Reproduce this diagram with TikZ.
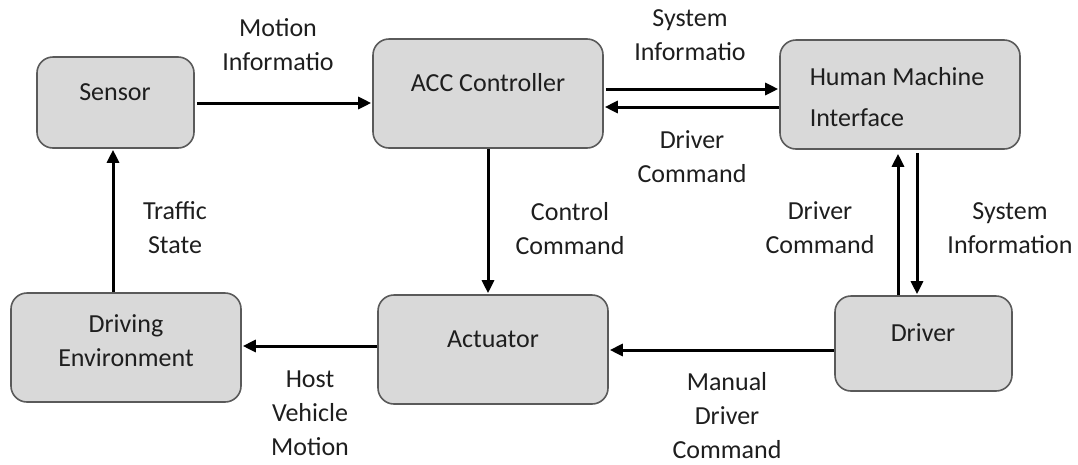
\documentclass[tikz,border=0pt]{standalone}
\usepackage{fontspec}
\setmainfont{Carlito}
\usetikzlibrary{arrows.meta,calc}
\definecolor{boxfill}{HTML}{D9D9D9}
\definecolor{boxline}{HTML}{5A5A5A}
\definecolor{txtcol}{HTML}{1E1E1E}
\begin{document}
\begin{tikzpicture}[x=1pt,y=-1pt,
  box/.style={draw=boxline,fill=boxfill,line width=1.6pt,rounded corners=16pt,inner sep=0pt},
  txt/.style={text=txtcol,font=\fontsize{26}{34}\selectfont,align=center,inner sep=0pt},
  flow/.style={line width=3pt,-{Triangle[length=13pt,width=12pt]},shorten >=1pt}]
\useasboundingbox (0,0) rectangle (1078,464);
% boxes
\node[box,minimum width=157pt,minimum height=91pt] (sensor) at (115.5,102.5) {};
\node[box,minimum width=230pt,minimum height=109pt] (acc) at (488,93.5) {};
\node[box,minimum width=240pt,minimum height=109pt] (hmi) at (900,94.5) {};
\node[box,minimum width=230pt,minimum height=109pt] (denv) at (126,347.5) {};
\node[box,minimum width=230pt,minimum height=109pt] (act) at (493,349.5) {};
\node[box,minimum width=177pt,minimum height=95pt] (driver) at (923.5,343.5) {};
% box texts
\node[txt] (sensorT) at (115,92) {Sensor};
\node[txt] (accT) at (488,83) {ACC Controller};
\node[txt,align=left,font=\fontsize{26}{41}\selectfont] (hmiT) at (897,97) {Human Machine\\Interface};
\node[txt] (denvT) at (126,341) {Driving\\Environment};
\node[txt] (actT) at (493,339) {Actuator};
\node[txt] (driverT) at (923,333) {Driver};
% helper coordinates
\coordinate (y103) at (0,103);
\coordinate (y89) at (0,89);
\coordinate (y107) at (0,107);
\coordinate (y346) at (0,346);
\coordinate (y350) at (0,350);
\coordinate (x898) at (898,0);
\coordinate (x917) at (917,0);
\coordinate (x113) at (113,0);
% connectors
\draw[flow] ([xshift=2pt]sensor.east |- y103) -- (acc.west |- y103);
\draw[flow] ([xshift=2pt]acc.east |- y89) -- (hmi.west |- y89);
\draw[flow] (hmi.west |- y107) -- (acc.east |- y107);
\draw[flow] (acc.south) -- (acc.south |- act.north);
\draw[flow] (x113 |- denv.north) -- (x113 |- sensor.south);
\draw[flow] (act.west |- y346) -- (denv.east |- y346);
\draw[flow] (driver.west |- y350) -- (act.east |- y350);
\draw[flow] (x898 |- driver.north) -- ([yshift=-3pt]x898 |- hmi.south);
\draw[flow] ([yshift=-3pt]x917 |- hmi.south) -- (x917 |- driver.north);
% connector labels
\node[txt] (l1) at (278,45) {Motion\\Informatio};
\node[txt] (l2) at (690,35) {System\\Informatio};
\node[txt] (l3) at (692,157) {Driver\\Command};
\node[txt] (l4) at (570,229) {Control\\Command};
\node[txt] (l5) at (175,228) {Traffic\\State};
\node[txt] (l6) at (820,228) {Driver\\Command};
\node[txt] (l7) at (1010,228) {System\\Information};
\node[txt] (l8) at (310,413) {Host\\Vehicle\\Motion};
\node[txt] (l9) at (727,416) {Manual\\Driver\\Command};
\end{tikzpicture}
\end{document}
